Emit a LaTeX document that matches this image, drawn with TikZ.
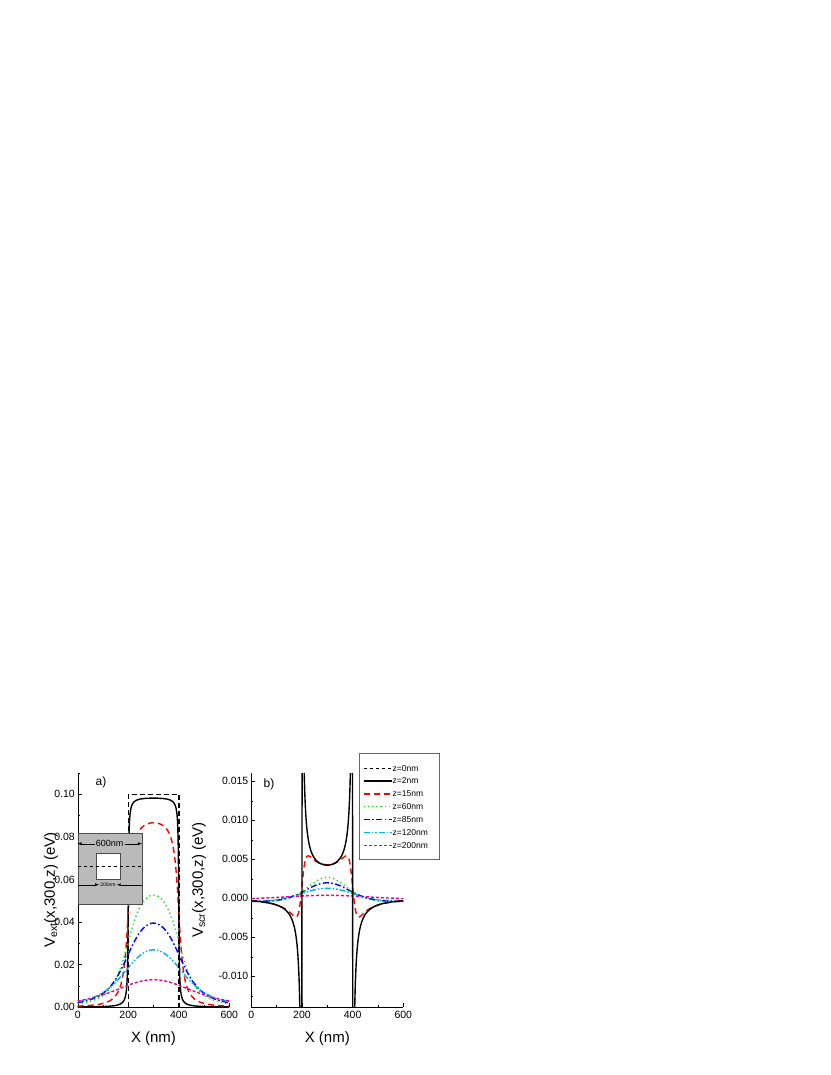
\documentclass[tikz,border=0pt]{standalone}
\usepackage{fontspec}
\setmainfont{Liberation Sans}
\usetikzlibrary{positioning}

\definecolor{grn}{RGB}{0,230,0}
\tikzset{
  ticklbl/.style={font=\fontsize{10.5}{12}\selectfont, inner sep=1pt},
  axtitle/.style={font=\fontsize{15}{17}\selectfont},
  lgtext/.style={font=\fontsize{8.5}{10}\selectfont, anchor=west, inner sep=1pt},
  zzero/.style={black, dashed, line width=0.5pt},
  ztwo/.style={black, line width=1.4pt},
  zfifteen/.style={red, line width=1.4pt, dash pattern=on 6pt off 4pt},
  zsixty/.style={grn, line width=1.4pt, dash pattern=on 1.2pt off 3pt},
  zeightyfive/.style={blue, line width=1.4pt, dash pattern=on 6pt off 2.5pt on 1.5pt off 2.5pt},
  zonetwenty/.style={cyan, line width=1.4pt, dash pattern=on 6pt off 2pt on 1.5pt off 2pt on 1.5pt off 2pt},
  ztwohundred/.style={magenta, line width=1.4pt, dash pattern=on 3pt off 2pt},
}

\begin{document}
\begin{tikzpicture}[
    x=1pt, y=1pt,
    declare function={
      gg(\X,\Z)=atan(\X/(\Z*sqrt(\X*\X+1+\Z*\Z)));
      va(\x,\Z)=-1007+1.1817*(gg((40-\x)/10,\Z)-gg((20-\x)/10,\Z));
      pa(\x)=77.7+2.527*\x;
      sp(\u,\d)=\u/(\u*\u+\d*\d);
      vb(\x,\c,\d)=-898.3+7800*(\c*(sp(\x-20,\d)+sp(40-\x,\d))+0.0017*(atan((\x-20)/\d)+atan((40-\x)/\d))/180);
      gb(\x,\A,\w,\b)=-898.3+7800*(\A*exp(-((\x-30)/\w)^2)+\b);
      pb(\x)=251.3+2.533*\x;
    }
  ]
\useasboundingbox (0,0) rectangle (830,-1075);

% ---- panel a ----
\draw (77.7,-773) -- (77.7,-1007) -- (229.3,-1007);
\foreach \v/\t in {0/0.00,1/0.02,2/0.04,3/0.06,4/0.08,5/0.10} {
  \draw (77.7,-1007+42.54*\v) -- ++(4,0);
  \node[ticklbl, anchor=east] (ya\v) at (76,-1007+42.54*\v) {\t};
}
\foreach \v in {0,...,5} \draw (77.7,-985.7+42.54*\v) -- ++(2,0);
\foreach \v in {0,1,2,3} {
  \pgfmathsetmacro{\xx}{77.7+50.53*\v}
  \draw (\xx,-1007) -- ++(0,4);
  \pgfmathtruncatemacro{\lab}{200*\v}
  \node[ticklbl, anchor=north] (xa\v) at (\xx,-1010) {\lab};
}
\foreach \v in {0,1,2} \draw (102.96+50.53*\v,-1007) -- ++(0,2);
\node[axtitle] (xta) at (153.5,-1039) {X (nm)};
\node[axtitle, rotate=90] (yta) at (51,-890) {V\textsubscript{ext}(x,300,z) (eV)};
\node[font=\fontsize{12}{14}\selectfont] (la) at (101,-782) {a)};

\draw[ztwo] plot[domain=0:60, samples=601] ({pa(\x)},{va(\x,0.02)});
\draw[zfifteen] plot[domain=0:60, samples=301] ({pa(\x)},{va(\x,0.15)});
\draw[zsixty] plot[domain=0:60, samples=121] ({pa(\x)},{va(\x,0.6)});
\draw[zeightyfive] plot[domain=0:60, samples=121] ({pa(\x)},{va(\x,0.85)});
\draw[zonetwenty] plot[domain=0:60, samples=121] ({pa(\x)},{va(\x,1.2)});
\draw[ztwohundred] plot[domain=0:60, samples=121] ({pa(\x)},{va(\x,2.0)});
\draw[black, line width=1.4pt, dash pattern=on 5pt off 3pt]
  (128.2,-1007) -- (128.2,-794.3) -- (178.8,-794.3) -- (178.8,-1007);

% inset
\node[draw=black!70, fill=black!27, minimum width=64pt, minimum height=71pt,
  inner sep=0pt] (inset) at (109.7,-868.8) {};
\node[draw=black!70, fill=white, minimum width=24.3pt, minimum height=25.7pt,
  inner sep=0pt] (gate) at (107.9,-866.2) {};
\draw[dashed, line width=0.5pt] (inset.west |- 0,-866) -- (inset.east |- 0,-866);
\node[font=\fontsize{9}{10}\selectfont, inner sep=1pt] (wid) at (109.7,-843.7) {600nm};
\draw[-latex, line width=0.4pt] (wid.west) -- (inset.west |- wid.west);
\draw[-latex, line width=0.4pt] (wid.east) -- (inset.east |- wid.east);
\node[font=\fontsize{5}{6}\selectfont, inner sep=1pt] (gw) at (107.9,-884.7) {200nm};
\draw[-latex, line width=0.4pt] (inset.west |- gw.west) -- (gw.west);
\draw[-latex, line width=0.4pt] (inset.east |- gw.east) -- (gw.east);

% ---- panel b ----
\draw (251.3,-773) -- (251.3,-1007) -- (403.3,-1007);
\foreach \v/\t in {-2/-0.010,-1/-0.005,0/0.000,1/0.005,2/0.010,3/0.015} {
  \draw (251.3,-898.3+39*\v) -- ++(4,0);
  \node[ticklbl, anchor=east] (yb\v) at (249.5,-898.3+39*\v) {\t};
}
\foreach \v in {-3,...,2} \draw (251.3,-878.8+39*\v) -- ++(2,0);
\foreach \v in {0,1,2,3} {
  \pgfmathsetmacro{\xx}{251.3+50.67*\v}
  \draw (\xx,-1007) -- ++(0,4);
  \pgfmathtruncatemacro{\lab}{200*\v}
  \node[ticklbl, anchor=north] (xb\v) at (\xx,-1010) {\lab};
}
\foreach \v in {0,1,2} \draw (276.6+50.67*\v,-1007) -- ++(0,2);
\node[axtitle] (xtb) at (327.3,-1039) {X (nm)};
\node[axtitle, rotate=90] (ytb) at (199,-880) {V\textsubscript{scr}(x,300,z) (eV)};
\node[font=\fontsize{12}{14}\selectfont] (lb) at (269,-784) {b)};

\begin{scope}
\clip (251.3,-773) rectangle (403.3,-1007);
\draw[ztwohundred] plot[domain=0:60, samples=121] ({pb(\x)},{gb(\x,0.0005,22,-0.0001)});
\draw[zonetwenty] plot[domain=0:60, samples=121] ({pb(\x)},{gb(\x,0.0017,14,-0.0004)});
\draw[zeightyfive] plot[domain=0:60, samples=121] ({pb(\x)},{gb(\x,0.0024,12,-0.0004)});
\draw[zsixty] plot[domain=0:60, samples=121] ({pb(\x)},{gb(\x,0.0031,10.5,-0.0004)});
\draw[zfifteen] plot[domain=0:60, samples=301] ({pb(\x)},{vb(\x,0.015,2.2)});
\draw[ztwo] plot[domain=0:60, samples=1201] ({pb(\x)},{vb(\x,0.013,0.2)});
\end{scope}

% ---- legend ----
\node[draw=black!60, minimum width=80pt, minimum height=106.6pt, inner sep=0pt]
  (legend) at (399.3,-806) {};
\foreach \s/\t/\y [count=\i] in {zzero/z=0nm/768.3, ztwo/z=2nm/781,
    zfifteen/z=15nm/794, zsixty/z=60nm/806.7, zeightyfive/z=85nm/819.3,
    zonetwenty/z=120nm/832.3, ztwohundred/z=200nm/845.3} {
  \coordinate (ls\i) at (363.5,-\y);
  \node[lgtext] (lt\i) at (391.5,-\y) {\t};
  \draw[\s] (ls\i) -- (lt\i.west);
}
\end{tikzpicture}
\end{document}
